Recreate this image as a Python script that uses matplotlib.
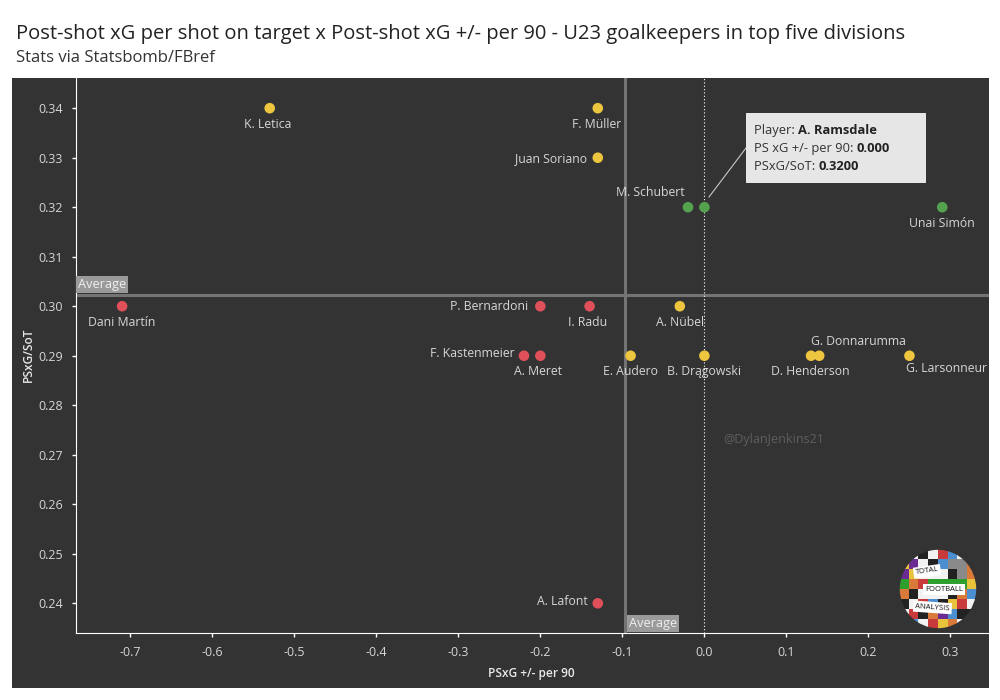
"""
Scatter of post-shot xG per shot on target against PSxG +/- per 90.
"""

import matplotlib
matplotlib.use('Agg')
import matplotlib.pyplot as plt
from matplotlib.colors import ListedColormap
from matplotlib.patches import Circle, Rectangle

plt.rcParams['font.family'] = ['Open Sans', 'DejaVu Sans']

FIG_W, FIG_H = 1000, 700

# data
players = ['K. Letica', 'F. Müller', 'Juan Soriano', 'M. Schubert', 'A. Ramsdale', 'Unai Simón',
           'Dani Martín', 'P. Bernardoni', 'I. Radu', 'A. Nübel', 'F. Kastenmeier', 'A. Meret',
           'E. Audero', 'B. Drągowski', 'D. Henderson', 'G. Donnarumma', 'G. Larsonneur', 'A. Lafont']
psxg_diff = [-0.53, -0.13, -0.13, -0.02, 0.0, 0.29,
             -0.71, -0.20, -0.14, -0.03, -0.22, -0.20,
             -0.09, 0.0, 0.13, 0.14, 0.25, -0.13]
psxg_sot = [0.34, 0.34, 0.33, 0.32, 0.32, 0.32,
            0.30, 0.30, 0.30, 0.30, 0.29, 0.29,
            0.29, 0.29, 0.29, 0.29, 0.29, 0.24]
groups = ['y', 'y', 'y', 'g', 'g', 'g',
          'r', 'r', 'r', 'y', 'r', 'r',
          'y', 'y', 'y', 'y', 'y', 'r']
x_ticks = [-0.7, -0.6, -0.5, -0.4, -0.3, -0.2, -0.1, 0.0, 0.1, 0.2, 0.3]
y_ticks = [0.24, 0.25, 0.26, 0.27, 0.28, 0.29, 0.30, 0.31, 0.32, 0.33, 0.34]
avg_x = -0.0963
avg_y = 0.3022

# styles
group_colors = {'y': '#EDC53F', 'g': '#55A24E', 'r': '#E0505A'}
BG = '#333333'
TXT = '#D6D6D6'

# label offsets from the point, in pixels, with alignment
label_pos = {
    'K. Letica': (-2, -16, 'center', 'center'),
    'F. Müller': (-1, -16, 'center', 'center'),
    'Juan Soriano': (-11, -1, 'right', 'center'),
    'M. Schubert': (-3, 15, 'right', 'center'),
    'Unai Simón': (0, -16, 'center', 'center'),
    'Dani Martín': (0, -16, 'center', 'center'),
    'P. Bernardoni': (-12, 0, 'right', 'center'),
    'I. Radu': (-2, -16, 'center', 'center'),
    'A. Nübel': (0, -16, 'center', 'center'),
    'F. Kastenmeier': (-9, 2, 'right', 'center'),
    'A. Meret': (-2, -16, 'center', 'center'),
    'E. Audero': (0, -16, 'center', 'center'),
    'B. Drągowski': (0, -16, 'center', 'center'),
    'D. Henderson': (-1, -16, 'center', 'center'),
    'G. Donnarumma': (39, 14, 'center', 'center'),
    'G. Larsonneur': (37, -13, 'center', 'center'),
    'A. Lafont': (-10, 2, 'right', 'center'),
}


def px_rect(left, top, right, bottom):
    """Figure fraction rectangle from pixel edges (top-left origin)."""
    return [left / FIG_W, 1 - bottom / FIG_H, (right - left) / FIG_W, (bottom - top) / FIG_H]


fig = plt.figure(figsize=(FIG_W / 100, FIG_H / 100), dpi=100, facecolor='white')
fig.add_artist(Rectangle((12 / FIG_W, 1 - 688 / FIG_H), 977 / FIG_W, 610 / FIG_H,
                         transform=fig.transFigure, facecolor=BG, edgecolor='none', zorder=-1))

ax = fig.add_axes(px_rect(75.5, 78, 989, 633))
ax.set_facecolor(BG)
ax.set_xlim(-0.7668, 0.347)
ax.set_ylim(0.2340, 0.3461)
ax.spines['top'].set_visible(False)
ax.spines['right'].set_visible(False)
ax.spines['left'].set_color('white')
ax.spines['bottom'].set_color('white')
ax.set_xticks(x_ticks)
ax.set_xticklabels([f'{v:.1f}' for v in x_ticks])
ax.set_yticks(y_ticks)
ax.set_yticklabels([f'{v:.2f}' for v in y_ticks])
ax.tick_params(labelcolor=TXT, labelsize=9, length=3, width=1, color='white', pad=6)

# reference lines
ax.axvline(avg_x, color='#747474', lw=2.2, zorder=1)
ax.axhline(avg_y, color='#747474', lw=2.2, zorder=1)
ax.axvline(0, color='white', lw=0.8, ls=(0, (1, 2)), zorder=1)

ax.scatter(psxg_diff, psxg_sot, c=[group_colors[g] for g in groups], s=58, linewidths=0, zorder=3)

for name, x, y in zip(players, psxg_diff, psxg_sot):
    if name not in label_pos:
        continue
    dx, dy, ha, va = label_pos[name]
    ax.annotate(name, (x, y), xytext=(dx * 0.72, dy * 0.72), textcoords='offset points',
                ha=ha, va=va, color=TXT, fontsize=8.8, zorder=4, annotation_clip=False)

# average tags
fig.text(102 / FIG_W, 1 - 284.5 / FIG_H, 'Average', color='#EEEEEE', fontsize=9.2, ha='center', va='center', zorder=6)
fig.add_artist(Rectangle((76 / FIG_W, 1 - 293 / FIG_H), 52 / FIG_W, 17 / FIG_H, transform=fig.transFigure,
                         facecolor='#9A9A9A', edgecolor='none', zorder=5))
fig.text(653 / FIG_W, 1 - 623.5 / FIG_H, 'Average', color='#EEEEEE', fontsize=9.2, ha='center', va='center', zorder=6)
fig.add_artist(Rectangle((627 / FIG_W, 1 - 632 / FIG_H), 52 / FIG_W, 17 / FIG_H, transform=fig.transFigure,
                         facecolor='#9A9A9A', edgecolor='none', zorder=5))

# tooltip for the unlabelled point
fig.add_artist(plt.Line2D([709 / FIG_W, 746 / FIG_W], [1 - 197 / FIG_H, 1 - 148 / FIG_H], color='#C8C8C8', lw=0.8))
fig.add_artist(Rectangle((746 / FIG_W, 1 - 183 / FIG_H), 180 / FIG_W, 70 / FIG_H, transform=fig.transFigure,
                         facecolor='#E6E6E6', edgecolor='none', zorder=5))
tooltip = [('Player: ', 'A. Ramsdale', 130.5), ('PS xG +/- per 90: ', '0.000', 148.5), ('PSxG/SoT: ', '0.3200', 166.5)]
for head, value, y_px in tooltip:
    t = fig.text(754 / FIG_W, 1 - y_px / FIG_H, head, color='#333333', fontsize=9.3, va='center', zorder=6)
    fig.canvas.draw()
    end = t.get_window_extent().x1
    fig.text(end / FIG_W, 1 - y_px / FIG_H, value, color='#222222', fontsize=9.3, fontweight='bold',
             va='center', zorder=6)

# titles and axis names
fig.text(16 / FIG_W, 1 - 34 / FIG_H,
         'Post-shot xG per shot on target x Post-shot xG +/- per 90 - U23 goalkeepers in top five divisions',
         color='#222222', fontsize=14.5, va='center')
fig.text(16 / FIG_W, 1 - 58 / FIG_H, 'Stats via Statsbomb/FBref', color='#333333', fontsize=12, va='center')
fig.text(531 / FIG_W, 1 - 673 / FIG_H, 'PSxG +/- per 90', color='#E8E8E8', fontsize=8.6, fontweight='semibold',
         ha='center', va='center')
fig.text(28 / FIG_W, 1 - 355 / FIG_H, 'PSxG/SoT', color='#E8E8E8', fontsize=8.6, fontweight='semibold',
         rotation=90, ha='center', va='center')
fig.text(774 / FIG_W, 1 - 439 / FIG_H, '@DylanJenkins21', color='#5E5E5E', fontsize=9, ha='center', va='center')

# logo badge, rough patchwork clipped to a circle
logo_cells = [
    [0, 0, 1, 0, 2, 3, 0, 1],
    [4, 5, 0, 1, 3, 6, 6, 7],
    [5, 4, 0, 0, 0, 1, 6, 7],
    [8, 7, 2, 8, 8, 8, 8, 4],
    [7, 1, 0, 0, 0, 1, 7, 3],
    [1, 0, 2, 3, 1, 4, 2, 0],
    [0, 2, 1, 7, 5, 3, 1, 1],
    [1, 3, 0, 2, 4, 7, 0, 2],
]
logo_cmap = ListedColormap(['#F2F2F2', '#222222', '#C93A3A', '#4C8FD0', '#E8C23A', '#6A2C91',
                            '#8A8A8A', '#D97A3A', '#2E9E2E'])
logo = fig.add_axes(px_rect(899, 549, 977, 629))
logo.set_xlim(0, 1)
logo.set_ylim(0, 1)
logo.axis('off')
logo_img = logo.imshow(logo_cells, cmap=logo_cmap, vmin=0, vmax=8, extent=(0, 1, 0, 1), aspect='auto',
                       interpolation='nearest')
logo_img.set_clip_path(Circle((0.5, 0.5), 0.49, transform=logo.transAxes))
for word, lx, ly, rot, fs in [('TOTAL', 0.36, 0.72, 8, 5.5), ('FOOTBALL', 0.58, 0.49, 0, 5.5), ('ANALYSIS', 0.43, 0.27, -4, 5.5)]:
    logo.text(lx, ly, word, color='#111111', fontsize=fs, ha='center', va='center', rotation=rot,
              bbox=dict(facecolor='white', edgecolor='none', pad=1.5))

fig.savefig('out.png', dpi=100, facecolor='white')
